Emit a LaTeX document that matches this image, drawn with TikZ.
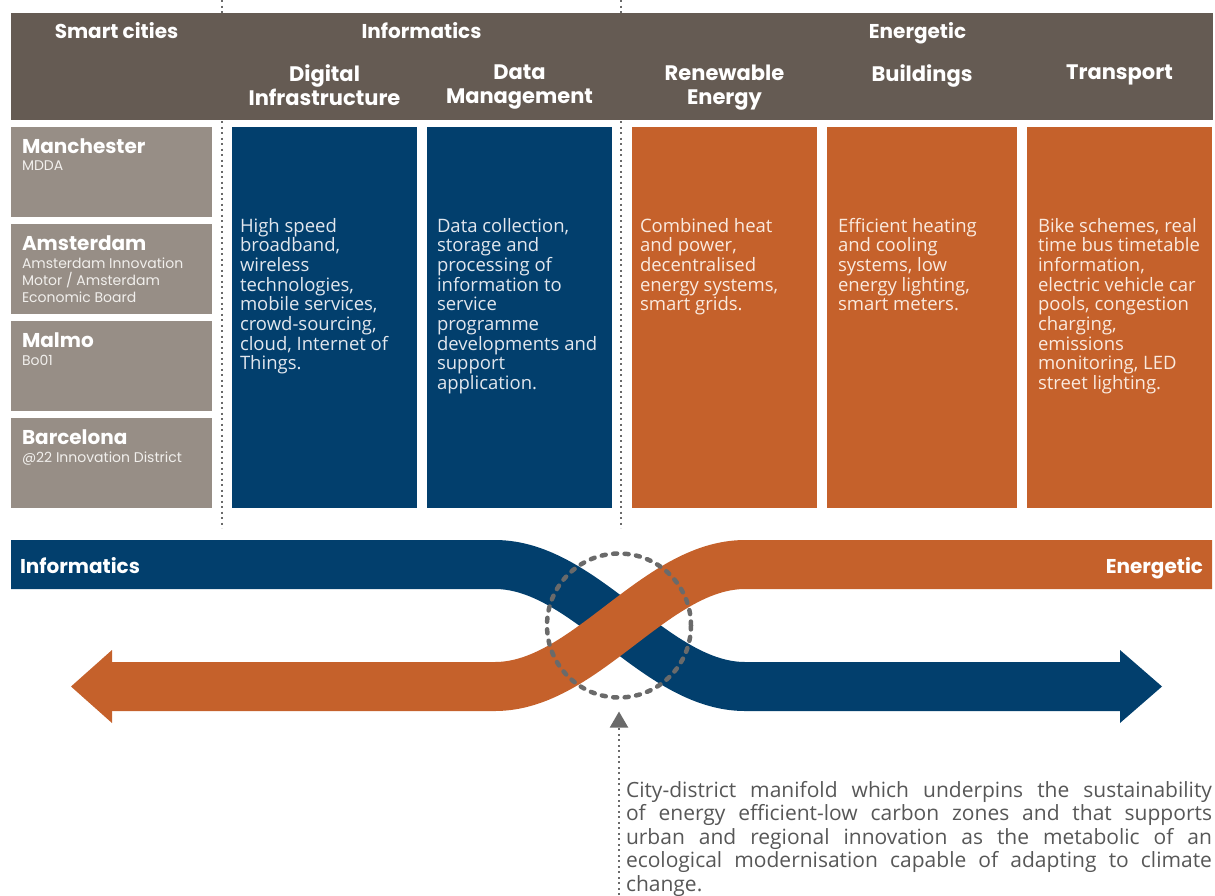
\documentclass[tikz,border=0pt]{standalone}
\usepackage{fontspec}
\setmainfont{Open Sans}
\newfontfamily\headfont{Poppins}
\usepackage{tikz}
\usetikzlibrary{arrows.meta,positioning}
\definecolor{bark}{HTML}{655B53}
\definecolor{stone}{HTML}{978E86}
\definecolor{navy}{HTML}{023F6D}
\definecolor{rust}{HTML}{C5612B}
\definecolor{ink}{HTML}{575757}
\definecolor{dots}{HTML}{6A6A6A}
\definecolor{navytext}{HTML}{E2E7EE}
\definecolor{rusttext}{HTML}{FAEADF}
\definecolor{citytext}{HTML}{F1EFEC}

\begin{document}
\begin{tikzpicture}[x=1pt,y=-1pt,node distance=7pt,every node/.style={inner sep=0pt,outer sep=0pt},
  hd/.style={text=white,font=\headfont\bfseries\fontsize{20}{23}\selectfont},
  sub/.style={hd,anchor=north,align=center,font=\headfont\bfseries\fontsize{21}{23.5}\selectfont},
  city/.style={fill=stone,minimum width=201pt,minimum height=90pt},
  ctitle/.style={hd,anchor=base west},
  csub/.style={anchor=north west,align=left,text=citytext,font=\headfont\fontsize{14}{16.7}\selectfont},
  col/.style={minimum width=185pt,minimum height=381pt},
  body/.style={anchor=north west,align=left,font=\fontsize{18.5}{19.7}\selectfont},
  dotline/.style={dots,line width=2pt,dash pattern=on 2pt off 3.5pt},
  band/.style={line width=49pt}]
\useasboundingbox (0,0) rectangle (1215,895);
% dividers between the column groups
\draw[dotline] (222,0) -- (222,528);
\draw[dotline] (621,0) -- (621,528);
% header band
\node[fill=bark,minimum width=1202pt,minimum height=107pt,anchor=north west] (head) at (11,12.5) {};
\coordinate (row) at (0,65);
\node[hd,anchor=base] at (116.5,38) {Smart cities};
\node[hd,anchor=base] at (421.5,38) {Informatics};
\node[hd,anchor=base] at (917.5,38) {Energetic};
% cities
\node[city,anchor=north west] (man) at (11,127) {};
\node[city,below=of man] (ams) {};
\node[city,below=of ams] (mal) {};
\node[city,below=of mal] (bcn) {};
\node[ctitle] at ([shift={(11,26)}]man.north west) {Manchester};
\node[csub] at ([shift={(11,34)}]man.north west) {MDDA};
\node[ctitle] at ([shift={(11,26)}]ams.north west) {Amsterdam};
\node[csub] at ([shift={(11,34)}]ams.north west) {Amsterdam Innovation\\Motor / Amsterdam\\Economic Board};
\node[ctitle] at ([shift={(11,26)}]mal.north west) {Malmo};
\node[csub] at ([shift={(11,34)}]mal.north west) {Bo01};
\node[ctitle] at ([shift={(11,26)}]bcn.north west) {Barcelona};
\node[csub] at ([shift={(11,34)}]bcn.north west) {@22 Innovation District};
% informatics and energetic columns
\node[col,fill=navy,anchor=north west] (dig) at (232,127) {};
\node[col,fill=navy,right=10pt of dig] (dat) {};
\node[col,fill=rust,right=20pt of dat] (ren) {};
\node[col,fill=rust,right=10pt of ren,minimum width=190pt] (bld) {};
\node[col,fill=rust,right=10pt of bld] (trn) {};
\node[sub] at (dig |- row) {Digital\\Infrastructure};
\node[sub] at (dat |- row) {Data\\Management};
\node[sub] at (ren |- row) {Renewable\\Energy};
\node[sub] at (bld |- row) {Buildings};
\node[sub] at (trn |- row) {Transport};
\node[body,text=navytext] at ([shift={(8,91)}]dig.north west) {High speed\\broadband,\\wireless\\technologies,\\mobile services,\\crowd-sourcing,\\cloud, Internet of\\Things.};
\node[body,text=navytext] at ([shift={(10,91)}]dat.north west) {Data collection,\\storage and\\processing of\\information to\\service\\programme\\developments and\\support\\application.};
\node[body,text=rusttext] at ([shift={(8,91)}]ren.north west) {Combined heat\\and power,\\decentralised\\energy systems,\\smart grids.};
\node[body,text=rusttext] at ([shift={(11,91)}]bld.north west) {Efficient heating\\and cooling\\systems, low\\energy lighting,\\smart meters.};
\node[body,text=rusttext] at ([shift={(11,91)}]trn.north west) {Bike schemes, real\\time bus timetable\\information,\\electric vehicle car\\pools, congestion\\charging,\\emissions\\monitoring, LED\\street lighting.};
% crossing bands
\draw[band,navy] (11,564.5) -- (495,564.5) .. controls (585,564.5) and (655,686.5) .. (745,686.5) -- (1120,686.5);
\fill[navy] (1120,650) -- (1162,686.5) -- (1120,723) -- cycle;
\draw[band,rust] (1212,564.5) -- (745,564.5) .. controls (655,564.5) and (585,686.5) .. (495,686.5) -- (112,686.5);
\fill[rust] (112,650) -- (71,686.5) -- (112,723) -- cycle;
\node[hd,anchor=base west] (inf) at (20,573) {Informatics};
\node[hd,anchor=base east] (ene) at (1203,573) {Energetic};
\node[circle,minimum size=144pt,draw=dots,line width=4.5pt,dash pattern=on 4pt off 7.5pt,line cap=round] (knot) at (619,625.5) {};
% note with pointer
\node[anchor=north west,align=left,text=ink,font=\fontsize{21}{23.5}\selectfont] (note) at (626,781) {%
\makebox[586pt][s]{City-district manifold which underpins the sustainability}\\
\makebox[586pt][s]{of energy efficient-low carbon zones and that supports}\\
\makebox[586pt][s]{urban and regional innovation as the metabolic of an}\\
\makebox[586pt][s]{ecological modernisation capable of adapting to climate}\\
change.};
\coordinate (tail) at (619,895);
\draw[dotline,-{Triangle[length=16pt,width=18pt]}] (tail) -- ([shift={(0,14)}]knot.south);
\end{tikzpicture}
\end{document}
